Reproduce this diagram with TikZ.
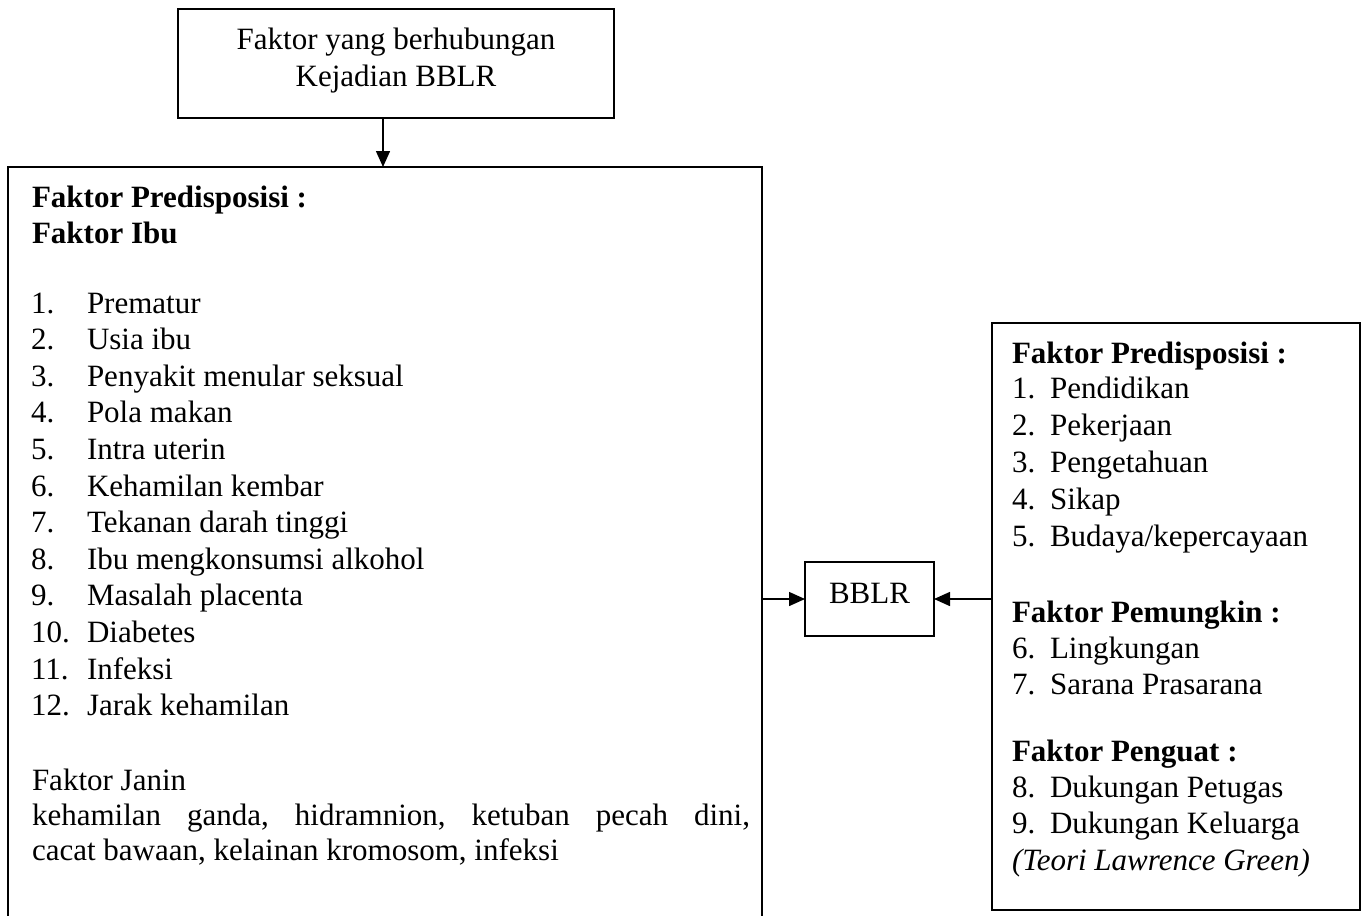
\documentclass[tikz,border=0pt]{standalone}
\usepackage{fontspec}
\setmainfont{Liberation Serif}
\usetikzlibrary{arrows.meta}
\begin{document}
\begin{tikzpicture}[x=1pt,y=-1pt]
\tikzset{
  box/.style={draw, line width=1.5pt, inner sep=0pt, outer sep=0pt},
  txt/.style={anchor=base west, inner sep=0pt, outer sep=0pt, font=\fontsize{31pt}{36.6pt}\selectfont},
  ctxt/.style={anchor=base, inner sep=0pt, outer sep=0pt, font=\fontsize{31pt}{36.6pt}\selectfont},
  arr/.style={line width=1.5pt, -{Triangle[length=16pt,width=14pt]}}
}
\useasboundingbox (0,0) rectangle (1367,915);
% boxes
\node[box, minimum width=436pt, minimum height=109pt] (top) at (396,63.5) {};
\node[box, minimum width=754pt, minimum height=770pt] (ibu) at (385,552) {};
\node[box, minimum width=129pt, minimum height=74pt] (bblr) at (869.5,599) {};
\node[box, minimum width=368pt, minimum height=587pt] (grn) at (1176,616.5) {};
% top text
\node[ctxt] (t1) at (396,50) {Faktor yang berhubungan};
\node[ctxt] (t2) at (396,87) {Kejadian BBLR};
% BBLR text
\node[ctxt] (bt) at (869.5,603) {BBLR};
% left box text
\node[txt] (h1) at (32,207) {\bfseries Faktor Predisposisi :};
\node[txt] (h2) at (32,243) {\bfseries Faktor Ibu};
\foreach \t [count=\i] in {Prematur, Usia ibu, Penyakit menular seksual, Pola makan, Intra uterin, Kehamilan kembar, Tekanan darah tinggi, Ibu mengkonsumsi alkohol, Masalah placenta, Diabetes, Infeksi, Jarak kehamilan}{
  \node[txt] (ln\i) at (31,{313+36.6*(\i-1)}) {\i.};
  \node[txt] (lt\i) at (87,{313+36.6*(\i-1)}) {\t};
}
\node[txt] (j1) at (32,790) {Faktor Janin};
\node[txt] (j2) at (32,825) {\hbox to 718pt{kehamilan\hfil ganda,\hfil hidramnion,\hfil ketuban\hfil pecah\hfil dini,}};
\node[txt] (j3) at (32,860) {cacat bawaan, kelainan kromosom, infeksi};
% right box text
\node[txt] (r0) at (1012,363) {\bfseries Faktor Predisposisi :};
\node[txt] (rn1) at (1012,398) {1.}; \node[txt] (rt1) at (1050,398) {Pendidikan};
\node[txt] (rn2) at (1012,435) {2.}; \node[txt] (rt2) at (1050,435) {Pekerjaan};
\node[txt] (rn3) at (1012,472) {3.}; \node[txt] (rt3) at (1050,472) {Pengetahuan};
\node[txt] (rn4) at (1012,509) {4.}; \node[txt] (rt4) at (1050,509) {Sikap};
\node[txt] (rn5) at (1012,546) {5.}; \node[txt] (rt5) at (1050,546) {Budaya/kepercayaan};
\node[txt] (r1) at (1012,622) {\bfseries Faktor Pemungkin :};
\node[txt] (rn6) at (1012,658) {6.}; \node[txt] (rt6) at (1050,658) {Lingkungan};
\node[txt] (rn7) at (1012,694) {7.}; \node[txt] (rt7) at (1050,694) {Sarana Prasarana};
\node[txt] (r2) at (1012,761) {\bfseries Faktor Penguat :};
\node[txt] (rn8) at (1012,797) {8.}; \node[txt] (rt8) at (1050,797) {Dukungan Petugas};
\node[txt] (rn9) at (1012,833) {9.}; \node[txt] (rt9) at (1050,833) {Dukungan Keluarga};
\node[txt] (r3) at (1012,870) {\itshape (Teori Lawrence Green)};
% connectors
\draw[arr] ([xshift=-13pt]top.south) -- ([xshift=-13pt]top.south |- ibu.north);
\draw[arr] (ibu.east |- bblr.west) -- (bblr.west);
\draw[arr] (grn.west |- bblr.east) -- (bblr.east);
\end{tikzpicture}
\end{document}
